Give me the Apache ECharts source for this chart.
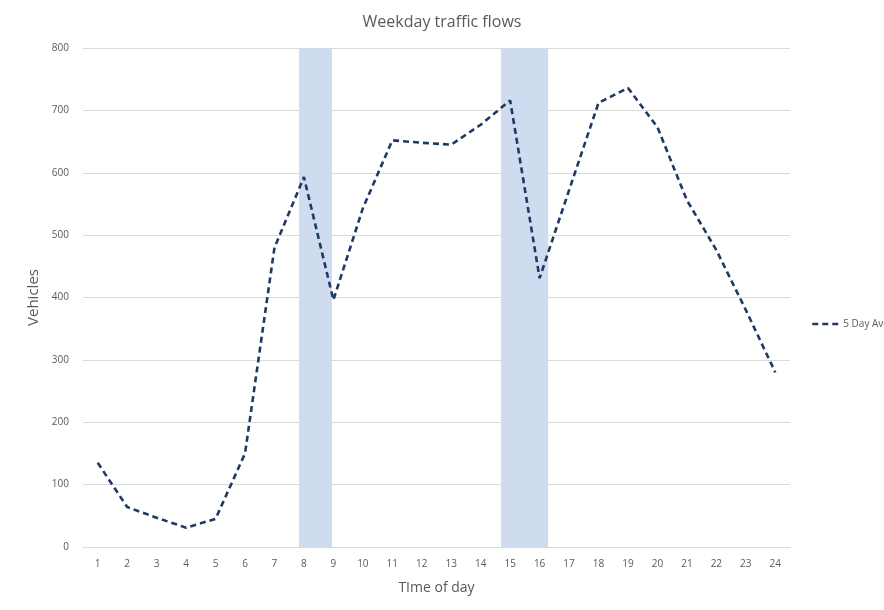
<!DOCTYPE html>
<html>
<head>
<meta charset="utf-8">
<script src="https://cdn.jsdelivr.net/npm/echarts@6/dist/echarts.min.js"></script>
<style>html,body{margin:0;padding:0;background:#fff;}#c{width:884px;height:610px;}</style>
</head>
<body>
<div id="c"></div>
<script>
var hours = ['1','2','3','4','5','6','7','8','9','10','11','12','13','14','15','16','17','18','19','20','21','22','23','24'];
var fiveDayAverage = [135, 64, 47, 31, 45, 150, 480, 593, 396, 543, 652, 648, 645, 677, 716, 431, 572, 712, 736, 673, 556, 476, 380, 280];
var highlightRanges = [[7.83, 8.95], [14.69, 16.29]];
var seriesName = '5 Day Average';

var chart = echarts.init(document.getElementById('c'), null, {renderer: 'canvas'});
var txt = '#595959';
chart.setOption({
  animation: false,
  backgroundColor: '#ffffff',
  title: {
    text: 'Weekday traffic flows',
    left: 437, top: 9, textAlign: 'center',
    textStyle: {fontFamily: 'Open Sans', fontSize: 16, fontWeight: 'normal', color: txt}
  },
  legend: {
    data: [seriesName],
    left: 806, top: 314, orient: 'vertical',
    itemWidth: 30, itemHeight: 10, itemGap: 4,
    itemStyle: {opacity: 0},
    lineStyle: {width: 2.5},
    textStyle: {fontFamily: 'Open Sans', fontSize: 10, color: txt, padding: [0,0,0,-4]}
  },
  grid: {left: 83, right: 94, top: 48, bottom: 63, containLabel: false},
  xAxis: [{
    type: 'category', data: hours, boundaryGap: true,
    name: 'TIme of day', nameLocation: 'middle', nameGap: 34,
    nameTextStyle: {fontFamily: 'Open Sans', fontSize: 14, color: txt},
    axisLine: {show: true, lineStyle: {color: '#d9d9d9', width: 1}},
    axisTick: {show: false},
    axisLabel: {fontFamily: 'Open Sans', fontSize: 10, color: txt, margin: 12},
    splitLine: {show: false}
  }, {
    type: 'value', min: 0.5, max: 24.5, show: false
  }],
  yAxis: {
    type: 'value', min: 0, max: 800, interval: 100,
    name: 'Vehicles', nameLocation: 'middle', nameGap: 40, nameRotate: 90,
    nameTextStyle: {fontFamily: 'Open Sans', fontSize: 15, color: txt},
    axisLine: {show: false}, axisTick: {show: false},
    axisLabel: {fontFamily: 'Open Sans', fontSize: 10, color: txt, margin: 14},
    splitLine: {lineStyle: {color: '#d9d9d9', width: 1}}
  },
  series: [{
    name: 'bands', type: 'line', xAxisIndex: 1, data: [],
    silent: true,
    markArea: {
      silent: true,
      itemStyle: {color: '#cfdcef'},
      data: highlightRanges.map(function (r) { return [{xAxis: r[0], yAxis: 0}, {xAxis: r[1], yAxis: 800}]; })
    }
  }, {
    name: seriesName, type: 'line', data: fiveDayAverage,
    symbol: 'none', smooth: false,
    lineStyle: {color: '#1f3864', width: 2.6, type: [6, 4]},
    itemStyle: {color: '#1f3864'}
  }]
});
</script>
</body>
</html>
